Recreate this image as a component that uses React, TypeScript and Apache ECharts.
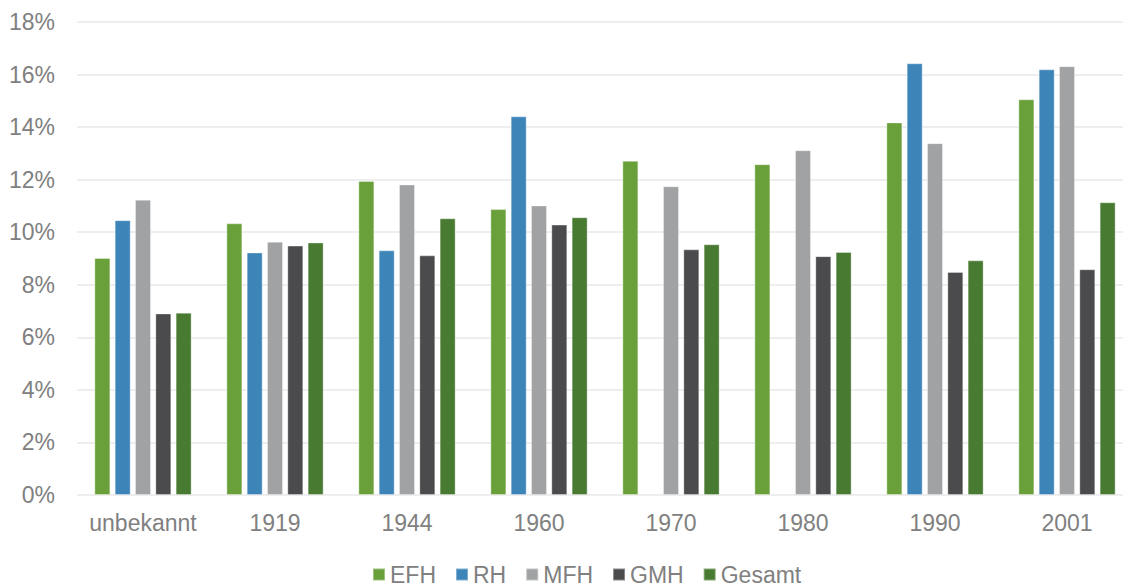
import React, { useEffect, useRef } from "react";
import * as echarts from "echarts";

const categories = ["unbekannt", "1919", "1944", "1960", "1970", "1980", "1990", "2001"];
const seriesNames = ["EFH", "RH", "MFH", "GMH", "Gesamt"];
const efh = [9.02, 10.34, 11.95, 10.88, 12.72, 12.59, 14.18, 15.06];
const rh = [10.46, 9.23, 9.31, 14.41, null, null, 16.43, 16.2];
const mfh = [11.24, 9.64, 11.82, 11.02, 11.75, 13.12, 13.39, 16.32];
const gmh = [6.91, 9.49, 9.12, 10.29, 9.35, 9.09, 8.49, 8.59];
const gesamt = [6.94, 9.61, 10.53, 10.57, 9.54, 9.25, 8.93, 11.14];
const colors = ["#6aa03a", "#3d85b9", "#a1a2a4", "#4b4b4d", "#497a31"];

const FONT = '"Liberation Sans", Arial, sans-serif';
const TEXT = "#808080";

export default function App() {
  const ref = useRef<HTMLDivElement>(null);
  useEffect(() => {
    if (!ref.current) return;
    const chart = echarts.init(ref.current, undefined, { renderer: "svg" });
    const data = [efh, rh, mfh, gmh, gesamt];
    chart.setOption({
      animation: false,
      backgroundColor: "#ffffff",
      textStyle: { fontFamily: FONT },
      grid: { left: 77, top: 22, width: 1056, height: 473, containLabel: false },
      legend: {
        data: seriesNames,
        left: 372,
        top: 563,
        padding: 0,
        itemWidth: 12,
        itemHeight: 12,
        itemGap: 19,
        icon: "rect",
        textStyle: { color: TEXT, fontSize: 23, fontFamily: FONT },
      },
      xAxis: {
        type: "category",
        data: categories,
        axisLine: { show: false },
        axisTick: { show: false },
        axisLabel: { color: TEXT, fontSize: 23, fontFamily: FONT, margin: 16, interval: 0 },
      },
      yAxis: {
        type: "value",
        min: 0,
        max: 18,
        interval: 2,
        axisLine: { show: false },
        axisTick: { show: false },
        axisLabel: { color: TEXT, fontSize: 23, fontFamily: FONT, margin: 22, formatter: "{value}%" },
        splitLine: { lineStyle: { color: "#e9e9e9", width: 1.5 } },
      },
      series: seriesNames.map((name, i) => ({
        name,
        type: "bar",
        data: data[i].map((v) => (v === null ? "-" : v)),
        barWidth: 16,
        barGap: "27%",
        itemStyle: {
          color: colors[i],
          borderColor: "rgba(255,255,255,0.35)",
          borderWidth: 1,
        },
      })),
    });
    return () => chart.dispose();
  }, []);
  return (
    <div
      style={{ position: "absolute", left: 0, top: 0, width: 1123, height: 586, overflow: "hidden" }}
    >
      <div ref={ref} style={{ position: "absolute", left: 0, top: 0, width: 1140, height: 586 }} />
    </div>
  );
}
